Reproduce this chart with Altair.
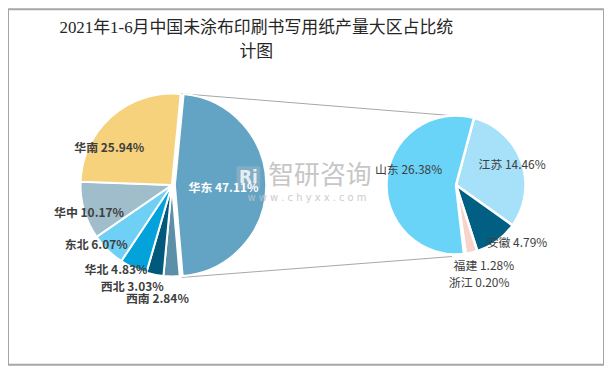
import math
import altair as alt
import pandas as pd

# ---------------- data ----------------
regions = ["华东", "西南", "西北", "华北", "东北", "华中", "华南"]
region_share = [47.11, 2.84, 3.03, 4.83, 6.07, 10.17, 25.94]
region_colors = ["#63A4C4", "#5C90A8", "#015A7C", "#04A2DA", "#6FD0F5", "#9FBDCB", "#F6D27C"]

provinces = ["江苏", "安徽", "福建", "浙江", "山东"]
province_share = [14.46, 4.79, 1.28, 0.20, 26.38]
province_colors = ["#A7E1F9", "#005F82", "#F6D3CB", "#BFBFBF", "#6AD3F8"]

title_lines = ["2021年1-6月中国未涂布印刷书写用纸产量大区占比统", "计图"]
watermark = ["智研咨询", "w w w . c h y x x . c o m"]

FONT = "Noto Sans CJK SC"

# label placement (layout only): name -> (radius px, angular shift in degrees)
left_label_pos = {
    "华东": (49, 3), "华南": (73, -18.5), "华中": (88, -2.4), "东北": (97, 7.2),
    "华北": (102, 8.5), "西北": (110, 10.5), "西南": (116, 7.0),
}
right_label_pos = {
    "江苏": (60, 0), "山东": (50, 13), "安徽": (85, -10), "福建": (86, -6), "浙江": (101, -6),
}


def frame(names, shares, colors):
    df = pd.DataFrame({"name": names, "share": shares, "color": colors})
    df["end"] = df["share"].cumsum()
    df["start"] = df["end"] - df["share"]
    df["mid"] = (df["start"] + df["end"]) / 2
    df["label"] = df["name"] + " " + df["share"].map(lambda v: f"{v:.2f}%")
    return df


left = frame(regions, region_share, region_colors)
right = frame(provinces, province_share, province_colors)
left_total = float(left["share"].sum())
right_total = float(right["share"].sum())


def tscale(total, rot_deg):
    a = math.radians(rot_deg)
    return alt.Scale(domain=[0, total], range=[a, a + 2 * math.pi])


def arcs(df, total, rot, cx, cy, r, sw):
    return alt.Chart(df).mark_arc(radius=r, stroke="white", strokeWidth=sw).encode(
        theta=alt.Theta("start:Q", stack=False, scale=tscale(total, rot)),
        theta2="end:Q",
        color=alt.Color("color:N", scale=None),
        x=alt.value(cx),
        y=alt.value(cy),
    )


def label(df, name, total, rot, cx, cy, pos, color, weight):
    radius, shift = pos
    return alt.Chart(df[df["name"] == name]).mark_text(
        fontSize=12, font=FONT, fontWeight=weight, color=color,
        align="center", baseline="middle", radius=radius,
    ).encode(
        theta=alt.Theta("mid:Q", stack=False, scale=tscale(total, rot + shift)),
        text="label:N",
        x=alt.value(cx),
        y=alt.value(cy),
    )


LCX, LCY, LR, LROT = 165, 177, 92, 5.5
RCX, RCY, RR, RROT = 451, 177, 70, 15

dummy = pd.DataFrame({"k": [0]})

connectors = [
    alt.Chart(dummy).mark_rule(color="#A6A6A6", strokeWidth=1).encode(
        x=alt.value(174), y=alt.value(85), x2=alt.value(457), y2=alt.value(108)),
    alt.Chart(dummy).mark_rule(color="#A6A6A6", strokeWidth=1).encode(
        x=alt.value(175), y=alt.value(270), x2=alt.value(447), y2=alt.value(249)),
]

is_east = left["name"] == regions[0]
left_rest = arcs(left[~is_east], left_total, LROT, LCX, LCY, LR, 2)
left_east = arcs(left[is_east], left_total, LROT, LCX + 3, LCY, LR, 2)
right_arcs = arcs(right, right_total, RROT, RCX, RCY, RR, 2.5)

left_labels = [
    label(left, n, left_total, LROT, LCX + (3 if n == regions[0] else 0), LCY,
          left_label_pos[n], "white" if n == regions[0] else "#404040", "bold")
    for n in regions
]
right_labels = [
    label(right, n, right_total, RROT, RCX, RCY, right_label_pos[n], "#404040", "normal")
    for n in provinces
]

title = [
    alt.Chart(dummy).mark_text(fontSize=17, font="Liberation Serif, " + FONT, color="#262626",
                               align="center", baseline="middle").encode(
        x=alt.value(250), y=alt.value(19 + 24 * i), text=alt.value(t))
    for i, t in enumerate(title_lines)
]

logo = [
    alt.Chart(dummy).mark_rect(color="#9DB5C6", opacity=0.55, cornerRadius=2).encode(
        x=alt.value(230), x2=alt.value(254), y=alt.value(158), y2=alt.value(181)),
    alt.Chart(dummy).mark_text(fontSize=17, font="DejaVu Sans", fontWeight="bold", color="white",
                               opacity=0.8, align="center", baseline="middle").encode(
        x=alt.value(242), y=alt.value(170), text=alt.value("Ri")),
]

wm = [
    alt.Chart(dummy).mark_text(fontSize=26, font=FONT, color="#BDBDBD", opacity=0.85,
                               align="center", baseline="middle").encode(
        x=alt.value(314), y=alt.value(168), text=alt.value(watermark[0])),
    alt.Chart(dummy).mark_text(fontSize=10, font="DejaVu Sans", color="#C4C4C4", opacity=0.85,
                               align="center", baseline="middle").encode(
        x=alt.value(301), y=alt.value(190), text=alt.value(watermark[1])),
]

chart = alt.layer(
    *connectors, left_rest, left_east, right_arcs, *logo, *wm, *left_labels, *right_labels, *title
).resolve_scale(theta="independent").properties(
    width=600, height=358, padding=0, autosize="none"
).configure_view(stroke="#A6A6A6", strokeWidth=2)

chart.save("out.html", embed_options={"renderer": "svg", "actions": False})
